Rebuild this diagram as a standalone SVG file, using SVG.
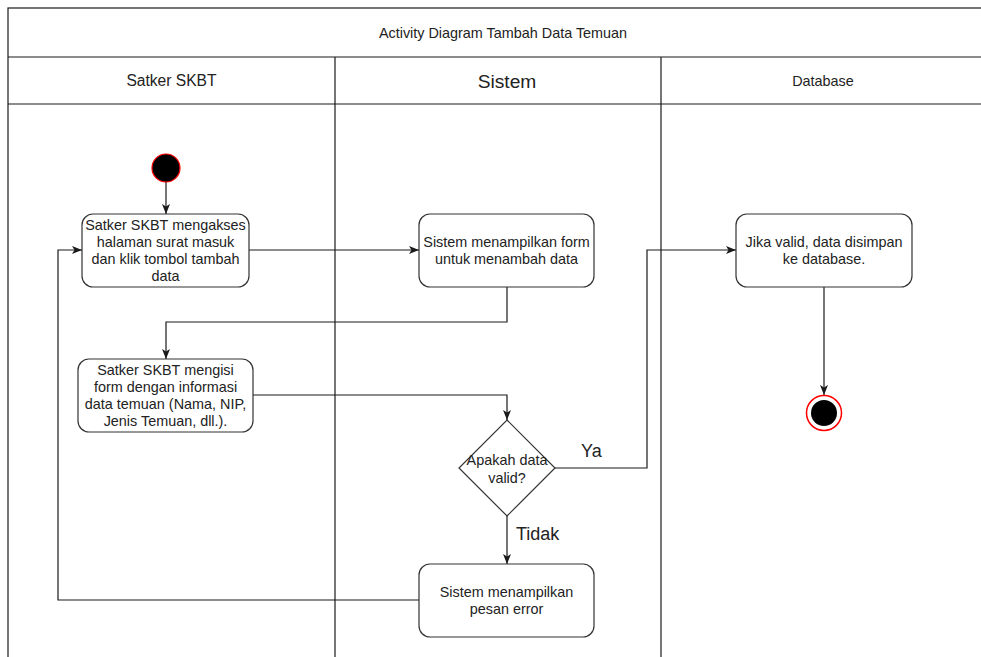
<svg xmlns="http://www.w3.org/2000/svg" width="981" height="657" viewBox="0 0 981 657">
  <style>
    .frame { fill: none; stroke: #1a1a1a; stroke-width: 1.2; }
    .box { fill: #ffffff; stroke: #333333; stroke-width: 1.2; }
    .edge { fill: none; stroke: #1a1a1a; stroke-width: 1.2; }
    .txt { font-family: "Liberation Sans", Arial, sans-serif; fill: #222222; text-anchor: middle; }
    .t12 { font-size: 14.4px; }
    .lbl { font-size: 18px; text-anchor: start; }
  </style>
  <defs>
    <marker id="arrow" viewBox="0 0 10 10" refX="10" refY="5" markerWidth="10" markerHeight="10" markerUnits="userSpaceOnUse" orient="auto">
      <path d="M0,1 L10,5 L0,9 L2.5,5 Z" fill="#1a1a1a"/>
    </marker>
  </defs>

  <rect width="981" height="657" fill="#ffffff"/>

  <!-- pool with title bar and three lanes -->
  <g id="pool">
    <rect class="frame" x="8" y="8" width="990" height="700"/>
    <line class="frame" x1="8" y1="57" x2="998" y2="57"/>
    <line class="frame" x1="8" y1="104" x2="998" y2="104"/>
    <line class="frame" x1="335" y1="57" x2="335" y2="660"/>
    <line class="frame" x1="661" y1="57" x2="661" y2="660"/>
    <text class="txt t12" x="503" y="38">Activity Diagram Tambah Data Temuan</text>
    <text class="txt" x="171.5" y="86" font-size="15.6">Satker SKBT</text>
    <text class="txt" x="507" y="87.5" font-size="19.2">Sistem</text>
    <text class="txt t12" x="823" y="85.5">Database</text>
  </g>

  <!-- connectors -->
  <g id="connectors">
    <path class="edge" d="M166,182 V214" marker-end="url(#arrow)"/>
    <path class="edge" d="M249,250 H419" marker-end="url(#arrow)"/>
    <path class="edge" d="M507,287 V322 H166 V359" marker-end="url(#arrow)"/>
    <path class="edge" d="M253,395 H507 V420" marker-end="url(#arrow)"/>
    <path class="edge" d="M555,468 H647 V250 H736" marker-end="url(#arrow)"/>
    <path class="edge" d="M507,516 V564" marker-end="url(#arrow)"/>
    <path class="edge" d="M419,600 H58 V250 H82" marker-end="url(#arrow)"/>
    <path class="edge" d="M824,287 V395" marker-end="url(#arrow)"/>
    <text class="txt lbl" x="581" y="457">Ya</text>
    <text class="txt lbl" x="516" y="540">Tidak</text>
  </g>

  <g id="start">
    <circle cx="166" cy="168" r="14" fill="#000000" stroke="#ff0000" stroke-width="1.2"/>
  </g>

  <g id="akses">
    <rect class="box" x="82" y="214" width="167" height="73" rx="11"/>
    <text class="txt t12" x="165.5" y="229.6">Satker SKBT mengakses</text>
    <text class="txt t12" x="165.5" y="246.9">halaman surat masuk</text>
    <text class="txt t12" x="165.5" y="264.1">dan klik tombol tambah</text>
    <text class="txt t12" x="165.5" y="281.4">data</text>
  </g>

  <g id="tampil-form">
    <rect class="box" x="419" y="214" width="175" height="73" rx="11"/>
    <text class="txt t12" x="506.5" y="246.9">Sistem menampilkan form</text>
    <text class="txt t12" x="506.5" y="264.1">untuk menambah data</text>
  </g>

  <g id="isi-form">
    <rect class="box" x="78" y="359" width="175" height="73" rx="11"/>
    <text class="txt t12" x="165.5" y="374.6">Satker SKBT mengisi</text>
    <text class="txt t12" x="165.5" y="391.9">form dengan informasi</text>
    <text class="txt t12" x="165.5" y="409.1">data temuan (Nama, NIP,</text>
    <text class="txt t12" x="165.5" y="426.4">Jenis Temuan, dll.).</text>
  </g>

  <g id="cek-valid">
    <polygon class="box" points="507,420 555,468 507,516 459,468"/>
    <text class="txt t12" x="507" y="465">Apakah data</text>
    <text class="txt t12" x="507" y="482.5">valid?</text>
  </g>

  <g id="pesan-error">
    <rect class="box" x="419" y="564" width="175" height="73" rx="11"/>
    <text class="txt t12" x="506.5" y="596.9">Sistem menampilkan</text>
    <text class="txt t12" x="506.5" y="614.1">pesan error</text>
  </g>

  <g id="simpan">
    <rect class="box" x="736" y="214" width="176" height="73" rx="11"/>
    <text class="txt t12" x="824" y="246.9">Jika valid, data disimpan</text>
    <text class="txt t12" x="824" y="264.1">ke database.</text>
  </g>

  <g id="end">
    <circle cx="824" cy="413" r="17.5" fill="#ffffff" stroke="#ff0000" stroke-width="1.5"/>
    <circle cx="824" cy="413" r="13" fill="#000000"/>
  </g>
</svg>
